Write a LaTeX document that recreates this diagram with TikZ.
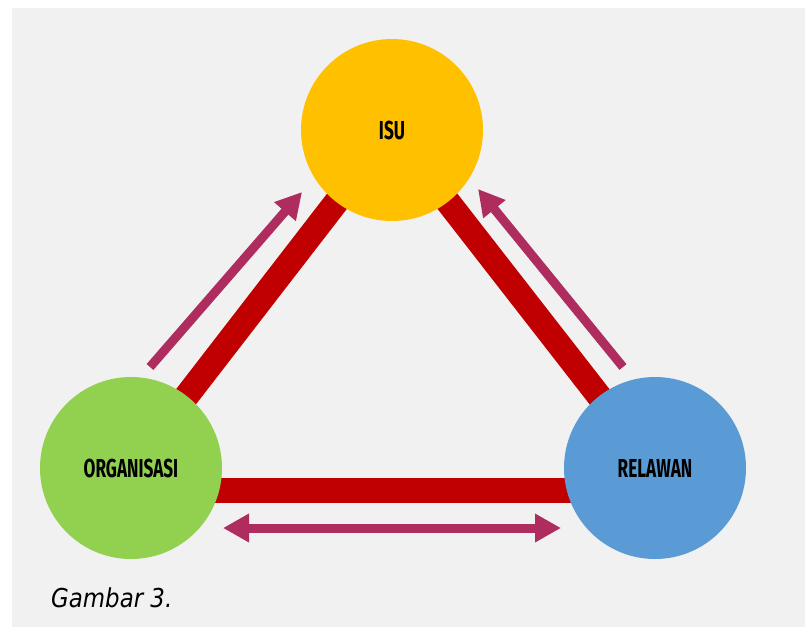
\documentclass[tikz,border=0pt]{standalone}
\usepackage{fontspec}
\usetikzlibrary{arrows.meta}
\newfontfamily\condfont{Fira Sans}[FakeStretch=0.66]
\newfontfamily\capfont{DejaVu Sans}[FakeStretch=0.88]
\definecolor{bgc}{HTML}{F1F1F1}
\definecolor{isuY}{HTML}{FFC000}
\definecolor{orgG}{HTML}{92D050}
\definecolor{relB}{HTML}{5B9BD5}
\definecolor{barR}{HTML}{C00000}
\definecolor{arrM}{HTML}{AF2C5E}
\pgfdeclarelayer{back}
\pgfsetlayers{back,main}
\tikzset{
  circ/.style={circle, draw=none, minimum size=182pt, inner sep=0pt,
    font=\condfont\bfseries\fontsize{26}{30}\selectfont, text=black},
  bar/.style={draw=barR, line width=25pt},
  arr/.style={draw=arrM, line width=9pt, -{Triangle[length=26pt,width=27pt]}},
  darr/.style={draw=arrM, line width=9pt, {Triangle[length=26pt,width=27pt]}-{Triangle[length=26pt,width=27pt]}}
}
\begin{document}
\begin{tikzpicture}[x=1pt,y=-1pt]
\useasboundingbox (0,0) rectangle (805,627);
\node[circ, fill=isuY] (isu) at (392,130) {ISU};
\node[circ, fill=orgG] (org) at (131,468) {ORGANISASI};
\node[circ, fill=relB] (rel) at (655,468) {RELAWAN};
\begin{pgfonlayer}{back}
  \fill[bgc] (12,8) rectangle (805,627);
  \draw[bar] (org.center) -- (isu.center);
  \draw[bar] (rel.center) -- (isu.center);
  \draw[bar] ([yshift=-22pt]org.center) -- ([yshift=-22pt]rel.center);
\end{pgfonlayer}
\coordinate (a1s) at (150,367);
\coordinate (a1e) at (302,192);
\coordinate (a2s) at (623,367);
\coordinate (a2e) at (478,189);
\coordinate (a3s) at (223,528);
\coordinate (a3e) at (561,528);
\draw[arr] (a1s) -- (a1e);
\draw[arr] (a2s) -- (a2e);
\draw[darr] (a3s) -- (a3e);
\node[anchor=base west, inner sep=0pt, font=\capfont\itshape\fontsize{26}{30}\selectfont] (cap) at (51,607) {Gambar 3.};
\end{tikzpicture}
\end{document}
